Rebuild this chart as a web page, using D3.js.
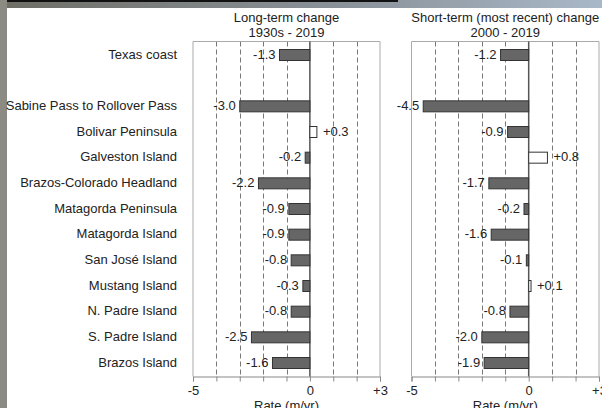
<!DOCTYPE html>
<html>
<head>
<meta charset="utf-8">
<script src="https://cdn.jsdelivr.net/npm/d3@7"></script>
<style>
  body { margin: 0; background: #fff; }
  svg { display: block; font-family: "Liberation Sans", Arial, sans-serif; }
</style>
</head>
<body>
<div id="chart"></div>
<script>
const categories = ["Texas coast", "Sabine Pass to Rollover Pass", "Bolivar Peninsula",
  "Galveston Island", "Brazos-Colorado Headland", "Matagorda Peninsula", "Matagorda Island",
  "San José Island", "Mustang Island", "N. Padre Island", "S. Padre Island", "Brazos Island"];
const longTerm = [-1.3, -3.0, 0.3, -0.2, -2.2, -0.9, -0.9, -0.8, -0.3, -0.8, -2.5, -1.6];
const shortTerm = [-1.2, -4.5, -0.9, 0.8, -1.7, -0.2, -1.6, -0.1, 0.1, -0.8, -2.0, -1.9];
const panelTitles = [["Long-term change", "1930s - 2019"], ["Short-term (most recent) change", "2000 - 2019"]];
const tickLabels = {"-5": "-5", "0": "0", "3": "+3"};

const width = 602, height = 408;
const plotTop = 41.5, plotBottom = 376.5;

const svg = d3.select("#chart").append("svg")
  .attr("width", width)
  .attr("height", height);

// photo-ish border around the chart
const grad = svg.append("defs").append("linearGradient").attr("id", "sky");
grad.append("stop").attr("offset", "0%").attr("stop-color", "#6e6e66");
grad.append("stop").attr("offset", "60%").attr("stop-color", "#8c949c");
grad.append("stop").attr("offset", "100%").attr("stop-color", "#a9b8c8");
svg.append("rect").attr("width", width).attr("height", 8).attr("fill", "url(#sky)");
svg.append("rect").attr("x", 7).attr("width", 391).attr("height", 2).attr("fill", "#111");
svg.append("rect").attr("y", 0).attr("width", 7).attr("height", height).attr("fill", "#8b8a83");

// rows, with a blank spacer after the first one
const rows = [categories[0], "_gap", ...categories.slice(1)];
const y = d3.scalePoint().domain(rows).range([55, 363]);
const barH = 11;

svg.append("g")
  .attr("font-size", 13)
  .attr("fill", "#222")
  .attr("text-anchor", "end")
  .selectAll("text")
  .data(categories)
  .join("text")
  .attr("x", 177)
  .attr("y", d => y(d) - 1)
  .attr("dy", "0.35em")
  .text(d => d);

function panel(x0, x1, values, title) {
  const x = d3.scaleLinear().domain([-5, 3]).range([x0, x1]);
  const g = svg.append("g");
  const ticks = d3.range(-5, 4);

  g.append("g")
    .selectAll("text")
    .data(title)
    .join("text")
    .attr("x", (x0 + x1) / 2)
    .attr("y", (d, i) => 22 + i * 14.5)
    .attr("text-anchor", "middle")
    .attr("font-size", 13)
    .attr("fill", "#222")
    .text(d => d);

  // dashed grid
  g.append("g")
    .selectAll("line")
    .data(ticks.filter(t => t > -5 && t < 3 && t !== 0))
    .join("line")
    .attr("x1", d => Math.round(x(d)) + 0.5)
    .attr("x2", d => Math.round(x(d)) + 0.5)
    .attr("y1", plotTop)
    .attr("y2", plotBottom)
    .attr("stroke", "#777")
    .attr("stroke-dasharray", "5,3");

  // frame
  g.append("path")
    .attr("d", `M${x0},${plotBottom}V${plotTop}H${x1}V${plotBottom}`)
    .attr("fill", "none")
    .attr("stroke", "#aaa");

  // axis
  const axis = d3.axisBottom(x)
    .tickValues(ticks)
    .tickSize(5)
    .tickPadding(4)
    .tickFormat(d => tickLabels[d] || "");
  const ax = g.append("g").attr("transform", `translate(0,${plotBottom})`).call(axis);
  ax.select(".domain").attr("stroke", "#888");
  ax.selectAll(".tick line").attr("stroke", "#888");
  ax.selectAll(".tick text").attr("font-size", 13).attr("fill", "#222")
    .attr("font-family", "Liberation Sans, Arial, sans-serif");

  g.append("text")
    .attr("x", (x0 + x1) / 2)
    .attr("y", 410)
    .attr("text-anchor", "middle")
    .attr("font-size", 13)
    .attr("fill", "#222")
    .text("Rate (m/yr)");

  // zero line
  g.append("line")
    .attr("x1", x(0)).attr("x2", x(0))
    .attr("y1", plotTop).attr("y2", plotBottom)
    .attr("stroke", "#555")
    .attr("stroke-width", 1.5);

  const data = categories.map((c, i) => ({c, v: values[i]}));

  g.append("g")
    .selectAll("rect")
    .data(data)
    .join("rect")
    .attr("x", d => x(Math.min(0, d.v)))
    .attr("y", d => y(d.c) - barH / 2)
    .attr("width", d => Math.abs(x(d.v) - x(0)))
    .attr("height", barH)
    .attr("fill", d => d.v < 0 ? "#666" : "#fff")
    .attr("stroke", "#333")
    .attr("stroke-width", 1);

  g.append("g")
    .attr("font-size", 13)
    .attr("fill", "#222")
    .selectAll("text")
    .data(data)
    .join("text")
    .attr("x", d => d.v < 0 ? x(d.v) - 4 : x(d.v) + 6)
    .attr("y", d => y(d.c) - 1)
    .attr("dy", "0.35em")
    .attr("text-anchor", d => d.v < 0 ? "end" : "start")
    .text(d => (d.v > 0 ? "+" : "") + d.v.toFixed(1));
}

panel(193, 380, longTerm, panelTitles[0]);
panel(411.5, 599, shortTerm, panelTitles[1]);
</script>
</body>
</html>
